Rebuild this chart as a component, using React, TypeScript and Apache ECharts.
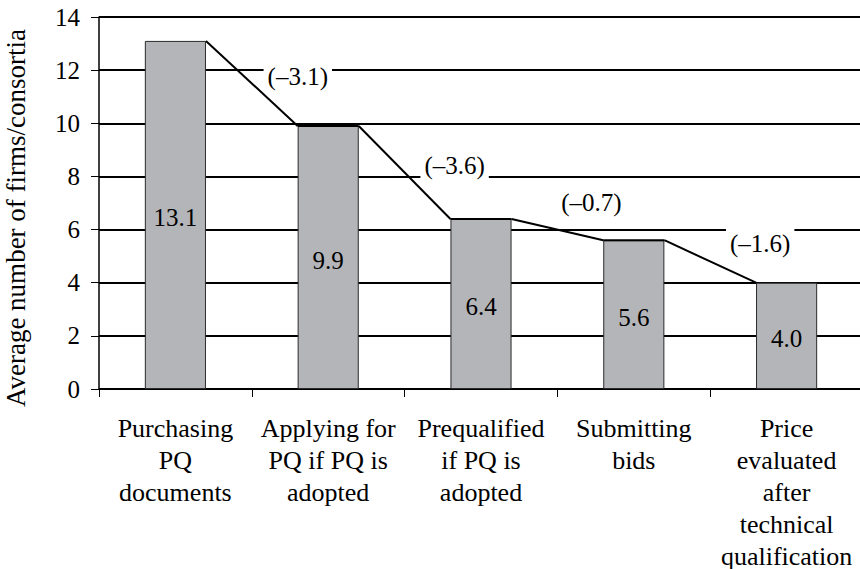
import React, { useEffect, useRef } from "react";
import * as echarts from "echarts";

// Stages of the tendering process and the average number of participants at each
const categories = [
  "Purchasing\nPQ\ndocuments",
  "Applying for\nPQ if PQ is\nadopted",
  "Prequalified\nif PQ is\nadopted",
  "Submitting\nbids",
  "Price\nevaluated\nafter\ntechnical\nqualification",
];
const averages = [13.1, 9.9, 6.4, 5.6, 4.0];
// Drop between consecutive stages, as reported
const changes = [-3.1, -3.6, -0.7, -1.6];

const yTicks = { min: 0, max: 14, interval: 2 };

const FONT = "Times New Roman, Liberation Serif, Tinos, DejaVu Serif, serif";
const BAR_RATIO = 0.4;
// Pixel nudges of each change label from its segment's midpoint
const LABEL_NUDGE: [number, number][] = [
  [46, -7],
  [50, -7],
  [34, -27],
  [50, -18],
];

const fmtChange = (c: number) =>
  "(" + (c < 0 ? "\u2013" : "") + Math.abs(c).toFixed(1) + ")";

export default function App() {
  const ref = useRef<HTMLDivElement>(null);

  useEffect(() => {
    if (!ref.current) return;
    const chart = echarts.init(ref.current, undefined, { renderer: "svg" });

    const segmentData = changes.map((c, i) => [i, averages[i], averages[i + 1], c]);

    chart.setOption({
      animation: false,
      backgroundColor: "#ffffff",
      textStyle: { fontFamily: FONT },
      grid: { left: 99, top: 17, width: 764, height: 372, outerBoundsMode: "none", containLabel: false },
      xAxis: {
        type: "category",
        data: categories,
        axisLine: { show: true, lineStyle: { color: "#000", width: 1.5 } },
        axisTick: { show: true, interval: 0, length: 8, lineStyle: { color: "#000", width: 1 } },
        axisLabel: {
          interval: 0,
          fontFamily: FONT,
          fontSize: 26,
          lineHeight: 32,
          color: "#000",
          margin: 23,
        },
        splitLine: { show: false },
      },
      yAxis: {
        type: "value",
        min: yTicks.min,
        max: yTicks.max,
        interval: yTicks.interval,
        name: "Average number of firms/consortia",
        nameLocation: "middle",
        nameRotate: 90,
        nameGap: 70,
        nameTextStyle: {
          fontFamily: FONT,
          fontSize: 27,
          color: "#000",
          padding: [0, 30, 0, 0],
        },
        axisLine: { show: true, lineStyle: { color: "#000", width: 1.5 } },
        axisTick: { show: true, length: 8, lineStyle: { color: "#000", width: 1 } },
        axisLabel: { fontFamily: FONT, fontSize: 25, color: "#000", margin: 19 },
        splitLine: { show: true, lineStyle: { color: "#000", width: 2 } },
      },
      series: [
        {
          type: "bar",
          data: averages,
          barWidth: BAR_RATIO * 100 + "%",
          itemStyle: { color: "#b4b5b9", borderColor: "#2a2a2a", borderWidth: 1 },
          label: {
            show: true,
            position: "inside",
            offset: [0, 3],
            fontFamily: FONT,
            fontSize: 25,
            color: "#000",
            formatter: (p: any) => Number(p.value).toFixed(1),
          },
          z: 2,
        },
        {
          type: "custom",
          data: segmentData,
          encode: { x: 0, y: [1, 2] },
          z: 5,
          renderItem: (params: any, api: any) => {
            const i = api.value(0);
            const v0 = api.value(1);
            const v1 = api.value(2);
            const c = api.value(3);
            const band = api.size([1, 0])[0];
            const half = (band * BAR_RATIO) / 2;
            const p0 = api.coord([i, v0]);
            const p1 = api.coord([i + 1, v1]);
            const x0 = p0[0] + half;
            const x1 = p1[0] - half;
            const children: any[] = [
              {
                type: "line",
                shape: { x1: x0, y1: p0[1], x2: x1, y2: p1[1] },
                style: { stroke: "#000", lineWidth: 2 },
              },
            ];
            if (i + 1 < averages.length - 1) {
              children.push({
                type: "line",
                shape: { x1: x1, y1: p1[1], x2: p1[0] + half, y2: p1[1] },
                style: { stroke: "#000", lineWidth: 2 },
              });
            }
            const nudge = LABEL_NUDGE[i] || [0, 0];
            children.push({
              type: "text",
              x: (x0 + x1) / 2 + nudge[0],
              y: (p0[1] + p1[1]) / 2 + nudge[1],
              style: {
                text: fmtChange(c),
                fontFamily: FONT,
                fontSize: 25,
                fill: "#000",
                align: "center",
                verticalAlign: "middle",
                backgroundColor: "#fff",
                padding: [3, 4],
              },
            });
            return { type: "group", children };
          },
        },
      ],
    });

    return () => chart.dispose();
  }, []);

  return (
    <div
      ref={ref}
      style={{ position: "absolute", left: 0, top: 0, width: 860, height: 569 }}
    />
  );
}
